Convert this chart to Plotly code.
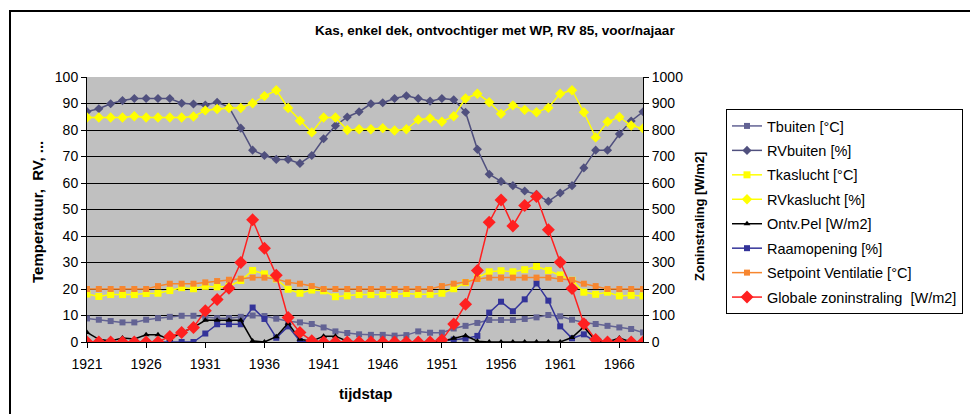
import plotly.graph_objects as go

tijdstap = [1921, 1922, 1923, 1924, 1925, 1926, 1927, 1928, 1929, 1930,
            1931, 1932, 1933, 1934, 1935, 1936, 1937, 1938, 1939, 1940,
            1941, 1942, 1943, 1944, 1945, 1946, 1947, 1948, 1949, 1950,
            1951, 1952, 1953, 1954, 1955, 1956, 1957, 1958, 1959, 1960,
            1961, 1962, 1963, 1964, 1965, 1966, 1967, 1968]
x_ticks = [1921, 1926, 1931, 1936, 1941, 1946, 1951, 1956, 1961, 1966]

tbuiten = [8.9, 8.4, 7.9, 7.4, 7.4, 8.4, 9.0, 9.5, 9.9, 9.9,
           9.5, 9.0, 9.0, 9.5, 10.0, 9.8, 8.8, 7.8, 7.4, 6.8,
           5.5, 4.0, 3.4, 2.9, 2.7, 2.7, 2.4, 2.6, 4.0, 3.5,
           3.5, 5.1, 6.1, 7.2, 8.3, 8.3, 8.3, 8.7, 9.3, 10.2,
           9.7, 8.4, 7.4, 6.8, 6.1, 5.5, 4.9, 3.6]
rvbuiten = [87.0, 88.0, 89.9, 91.1, 91.9, 91.9, 91.9, 91.9, 90.1, 89.8,
            89.4, 90.5, 88.6, 80.7, 72.4, 70.4, 68.9, 68.9, 67.4, 70.4,
            76.7, 81.6, 84.9, 86.9, 89.9, 90.3, 91.9, 92.9, 91.9, 90.9,
            91.9, 91.4, 86.7, 72.7, 63.3, 60.6, 59.0, 57.0, 55.7, 53.1,
            56.2, 59.0, 65.7, 72.4, 72.4, 78.5, 83.4, 86.9]
tkaslucht = [18.1, 17.2, 17.9, 17.9, 17.9, 18.3, 18.4, 19.4, 20.5, 20.1,
             21.0, 20.8, 21.0, 23.2, 27.0, 25.7, 23.8, 19.9, 18.4, 19.6,
             19.3, 17.1, 17.4, 17.9, 17.9, 17.9, 17.9, 18.3, 18.0, 18.0,
             18.4, 20.1, 22.4, 24.2, 26.5, 26.9, 26.5, 27.3, 28.5, 27.0,
             25.3, 23.3, 18.8, 18.0, 18.8, 17.4, 17.6, 17.4]
rvkaslucht = [84.7, 84.7, 84.7, 84.7, 85.2, 84.7, 84.7, 84.7, 84.7, 85.1,
              87.4, 87.9, 88.3, 88.3, 90.1, 92.8, 95.0, 88.3, 83.5, 79.1,
              84.7, 84.7, 80.0, 80.3, 80.3, 80.7, 79.8, 80.3, 83.9, 84.4,
              83.1, 85.2, 91.9, 93.7, 90.5, 86.1, 89.3, 87.6, 86.7, 88.4,
              93.7, 95.0, 86.7, 77.2, 83.1, 84.9, 81.7, 80.6]
ontv_pel = [36, 10, 4, 15, 11, 27, 27, 10, 36, 55,
            82, 82, 82, 82, 4, 0, 20, 71, 10, 3,
            22, 22, 3, 0, 0, 0, 0, 0, 0, 0,
            3, 14, 24, 3, 0, 0, 0, 0, 0, 0,
            0, 17, 57, 5, 0, 15, 0, 0]
raamopening = [0, 0, 0, 0, 0, 0, 0, 0, 0, 0,
               3.2, 6.7, 6.7, 6.7, 13.0, 8.7, 1.6, 5.9, 0.4, 0,
               0, 0, 0, 0, 0, 0, 0, 0, 0, 0,
               0.4, 0.9, 1.3, 2.3, 11.1, 15.2, 11.6, 16.1, 22.1, 15.6,
               5.9, 1.4, 2.9, 0, 0, 0, 0, 0]
setpoint = [20, 20, 20, 20, 20, 20, 21.1, 22.0, 22.0, 22.0,
            22.5, 23.0, 23.5, 23.9, 24.3, 24.3, 23.8, 22.5, 22.0, 21.1,
            20, 20, 20, 20, 20, 20, 20, 20, 20, 20,
            21.1, 22.0, 22.6, 23.8, 24.3, 24.3, 24.3, 24.3, 24.3, 24.3,
            23.8, 23.4, 22.0, 21.1, 20, 20, 20, 20]
globale = [0, 0, 0, 0, 0, 0, 0, 21, 36, 55,
           118, 160, 203, 300, 461, 354, 252, 92, 36, 5,
           0, 0, 0, 0, 0, 0, 0, 0, 0, 0,
           8, 68, 142, 270, 452, 536, 438, 515, 549, 424,
           301, 202, 69, 9, 0, 0, 0, 0]

FONT = "Liberation Sans, Arial, sans-serif"

series = [
    ("Tbuiten [°C]", tbuiten, "y", "#636394", "square", 6),
    ("RVbuiten [%]", rvbuiten, "y", "#50507E", "diamond", 7),
    ("Tkaslucht [°C]", tkaslucht, "y", "#FFFF00", "square", 7),
    ("RVkaslucht [%]", rvkaslucht, "y", "#FFFF00", "diamond", 8),
    ("Ontv.Pel [W/m2]", ontv_pel, "y2", "#000000", "triangle-up", 6),
    ("Raamopening [%]", raamopening, "y", "#333399", "square", 6),
    ("Setpoint Ventilatie [°C]", setpoint, "y", "#F7862F", "square", 6),
    ("Globale zoninstraling  [W/m2]", globale, "y2", "#FF2020", "diamond", 10),
]

fig = go.Figure()
for i, (name, vals, ax, col, sym, sz) in enumerate(series):
    fig.add_trace(go.Scatter(
        x=tijdstap, y=vals, name=name, yaxis=ax, mode="lines+markers",
        line=dict(color=col, width=1.5),
        marker=dict(color=col, symbol=sym, size=sz, line=dict(width=0)),
        legendgroup="g%d" % i,
    ))

# page has an 8px body margin: figure origin sits at (8, 8) in the window
L, T, W, H = 79, 69, 970, 406
PX0, PY0, PW, PH = 87, 77, 556, 265   # plot area in window pixels


def px(x):
    return (x - PX0) / PW


def py(y):
    return (PY0 + PH - y) / PH


fig.update_layout(
    width=W, height=H,
    margin=dict(l=L, r=W - L - PW, t=T, b=H - T - PH, autoexpand=False),
    paper_bgcolor="white", plot_bgcolor="#C0C0C0",
    font=dict(family=FONT, size=14, color="black"),
    showlegend=True,
    legend=dict(x=px(726), y=py(109), xanchor="left", yanchor="top",
                bgcolor="white", bordercolor="black", borderwidth=1,
                font=dict(size=14.5, family=FONT), tracegroupgap=2.6,
                itemclick=False, itemdoubleclick=False),
    xaxis=dict(range=[1921, 1968], tickvals=x_ticks, ticks="outside", ticklen=5,
               tickcolor="black", showline=True, linecolor="black", linewidth=1,
               showgrid=False, zeroline=False, tickfont=dict(size=14),
               ticklabelstandoff=4),
    yaxis=dict(range=[0, 100], dtick=10, ticks="outside", ticklen=5, tickcolor="black",
               showline=True, linecolor="black", linewidth=1,
               showgrid=True, gridcolor="black", gridwidth=1, zeroline=False,
               tickfont=dict(size=14)),
    yaxis2=dict(range=[0, 1000], dtick=100, overlaying="y", side="right",
                ticks="outside", ticklen=5, tickcolor="black",
                showline=True, linecolor="black", linewidth=1,
                showgrid=False, zeroline=False, tickfont=dict(size=14)),
    shapes=[
        dict(type="rect", xref="paper", yref="paper", layer="above",
             x0=px(9), x1=px(300), y0=py(12), y1=py(10),
             line=dict(width=0), fillcolor="black"),
        dict(type="rect", xref="paper", yref="paper", layer="above",
             x0=px(300), x1=px(650), y0=py(12), y1=py(10),
             line=dict(width=0), fillcolor="black"),
        dict(type="rect", xref="paper", yref="paper", layer="above",
             x0=px(650), x1=px(976), y0=py(12), y1=py(10),
             line=dict(width=0), fillcolor="black"),
        dict(type="rect", xref="paper", yref="paper", layer="above",
             x0=px(9), x1=px(11), y0=py(10), y1=py(414),
             line=dict(width=0), fillcolor="black"),
    ],
    annotations=[
        dict(text="<b>Kas, enkel dek, ontvochtiger met WP, RV 85, voor/najaar</b>",
             xref="paper", yref="paper", x=px(495), y=py(30),
             xanchor="center", yanchor="middle", showarrow=False,
             font=dict(size=13.5, family=FONT)),
        dict(text="<b>Temperatuur,\u00a0\u00a0RV, ...</b>",
             xref="paper", yref="paper", x=px(37), y=py(212),
             xanchor="center", yanchor="middle", textangle=-90, showarrow=False,
             font=dict(size=15, family=FONT)),
        dict(text="<b>Zoninstraling [W/m2]</b>",
             xref="paper", yref="paper", x=px(699), y=py(217),
             xanchor="center", yanchor="middle", textangle=-90, showarrow=False,
             font=dict(size=13, family=FONT)),
        dict(text="<b>tijdstap</b>",
             xref="paper", yref="paper", x=px(365), y=py(393),
             xanchor="center", yanchor="middle", showarrow=False,
             font=dict(size=15, family=FONT)),
    ],
)

fig.write_html("out.html")
